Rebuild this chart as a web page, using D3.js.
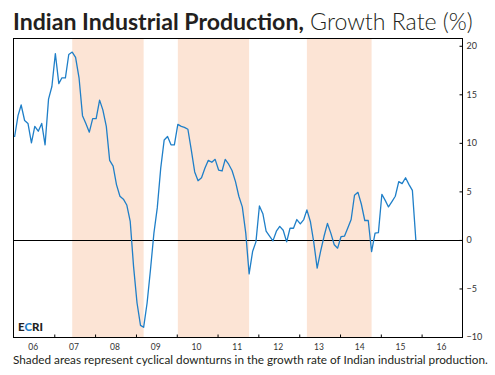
<!DOCTYPE html>
<html>
<head>
<meta charset="utf-8">
<script src="https://cdn.jsdelivr.net/npm/d3@7"></script>
<style>
  body { margin: 0; background: #fff; }
  svg text { font-family: Lato, "Open Sans", sans-serif; }
</style>
</head>
<body>
<div id="chart"></div>
<script>
// --- data (monthly growth rate, %, from Jan 2006) ---
const startMonth = "2006-01";
const growth = [
  10.6, 12.8, 13.9, 12.3, 12.0, 10.0, 11.7, 11.2, 12.0, 9.8, 14.5, 15.8,   // 2006
  19.2, 16.1, 16.7, 16.7, 19.1, 19.35, 18.8, 16.7, 12.8, 12.0, 11.1, 12.5, // 2007
  12.5, 14.4, 13.4, 11.7, 8.2, 7.6, 5.7, 4.5, 4.2, 3.6, 1.9, -2.75,       // 2008
  -6.5, -8.8, -9.0, -6.5, -3.1, 0.7, 3.3, 7.4, 10.3, 10.65, 9.8, 9.8,     // 2009
  11.9, 11.7, 11.6, 11.4, 9.3, 7.0, 6.1, 6.4, 7.4, 8.2, 8.0, 8.3,         // 2010
  7.2, 7.1, 8.3, 7.8, 7.15, 6.0, 4.5, 3.4, 0.7, -3.5, -1.2, -0.2,         // 2011
  3.5, 2.7, 0.9, 0.4, -0.1, 0.9, 1.4, 1.0, -0.2, 1.2, 1.2, 2.1,           // 2012
  1.65, 2.1, 3.1, 1.9, -0.2, -2.9, -1.2, 0.35, 1.7, 0.7, -0.5, -0.85,     // 2013
  0.35, 0.4, 1.2, 2.1, 4.6, 4.9, 3.7, 2.0, 2.0, -1.2, 0.7, 0.75,          // 2014
  4.7, 4.05, 3.4, 3.95, 4.5, 6.0, 5.8, 6.4, 5.7, 5.1, 0.0                 // 2015
];
// cyclical downturns (start month, end month)
const downturns = [
  ["2007-06", "2009-03"],
  ["2010-01", "2011-10"],
  ["2013-03", "2014-10"]
];
const yTicks = [-10, -5, 0, 5, 10, 15, 20];
const years = [2006, 2007, 2008, 2009, 2010, 2011, 2012, 2013, 2014, 2015, 2016];
const yearLabels = ["06", "07", "08", "09", "10", "11", "12", "13", "14", "15", "16"];

const titleBold = "Indian Industrial Production,";
const titleLight = " Growth Rate (%)";
const footnote = "Shaded areas represent cyclical downturns in the growth rate of Indian industrial production.";

// --- setup ---
const width = 495;
const height = 375;
const margin = { top: 38, right: 33, bottom: 38, left: 13 };

const parseMonth = d3.timeParse("%Y-%m");
const midMonth = s => d3.timeDay.offset(parseMonth(s), 14);

const series = growth.map((v, i) => ({
  date: d3.timeDay.offset(d3.timeMonth.offset(parseMonth(startMonth), i), 14),
  value: v
}));

const svg = d3.select("#chart")
  .append("svg")
  .attr("width", width)
  .attr("height", height);

const x = d3.scaleTime()
  .domain([new Date(2006, 0, 1), new Date(2017, 0, 1)])
  .range([margin.left, width - margin.right]);

const y = d3.scaleLinear()
  .domain([-10, 20.8])
  .range([height - margin.bottom, margin.top]);

// shaded downturns
svg.append("g")
  .selectAll("rect")
  .data(downturns)
  .join("rect")
  .attr("x", d => x(midMonth(d[0])))
  .attr("width", d => x(midMonth(d[1])) - x(midMonth(d[0])))
  .attr("y", y.range()[1])
  .attr("height", y.range()[0] - y.range()[1])
  .attr("fill", "#fce4d5");

// zero line
svg.append("line")
  .attr("x1", x.range()[0]).attr("x2", x.range()[1])
  .attr("y1", Math.round(y(0)) + 0.5).attr("y2", Math.round(y(0)) + 0.5)
  .attr("stroke", "#000")
  .attr("stroke-width", 1);

// growth line
const line = d3.line()
  .x(d => x(d.date))
  .y(d => y(d.value));

svg.append("path")
  .datum(series)
  .attr("d", line)
  .attr("fill", "none")
  .attr("stroke", "#1f7fc8")
  .attr("stroke-width", 1.3)
  .attr("stroke-linejoin", "round");

// frame
svg.append("rect")
  .attr("x", x.range()[0] + 0.5)
  .attr("y", y.range()[1] + 0.5)
  .attr("width", x.range()[1] - x.range()[0])
  .attr("height", y.range()[0] - y.range()[1])
  .attr("fill", "none")
  .attr("stroke", "#000")
  .attr("stroke-width", 1);

// x ticks (inside, at year boundaries)
const xAxis = d3.axisBottom(x)
  .tickValues(years.slice(1).map(yr => new Date(yr, 0, 1)))
  .tickSize(-3)
  .tickFormat("");

svg.append("g")
  .attr("transform", `translate(0.5,${y.range()[0] + 0.5})`)
  .call(xAxis)
  .call(g => g.select(".domain").remove())
  .call(g => g.selectAll("text").remove())
  .call(g => g.selectAll("line").attr("stroke", "#000"));

// year labels centred in each year
svg.append("g")
  .selectAll("text")
  .data(years)
  .join("text")
  .attr("x", d => x(new Date(d, 6, 1)))
  .attr("y", 349.5)
  .attr("text-anchor", "middle")
  .attr("font-size", 8.5)
  .attr("fill", "#333")
  .text((d, i) => yearLabels[i]);

// y axis on the right
const yAxis = d3.axisRight(y)
  .tickValues(yTicks)
  .tickSize(-3)
  .tickPadding(4);

svg.append("g")
  .attr("transform", `translate(${x.range()[1] + 0.5},0)`)
  .call(yAxis)
  .call(g => g.select(".domain").remove())
  .call(g => g.selectAll("line").attr("stroke", "#000"))
  .call(g => g.selectAll("text")
    .attr("font-family", "Lato, 'Open Sans', sans-serif")
    .attr("font-size", 9)
    .attr("fill", "#333"));

// title
const title = svg.append("text")
  .attr("x", 13)
  .attr("y", 30)
  .attr("font-size", 19)
  .attr("fill", "#231f20");
title.append("tspan").attr("font-weight", 700).text(titleBold);
title.append("tspan").attr("font-weight", 300).text(titleLight);
const tw = title.node().getComputedTextLength();
title.attr("font-size", 19 * 460 / tw);

// footnote
const note = svg.append("text")
  .attr("x", 13)
  .attr("y", 364)
  .attr("font-size", 11)
  .attr("fill", "#231f20")
  .text(footnote);
const nw = note.node().getComputedTextLength();
note.attr("font-size", 11 * 475 / nw);

// ECRI mark
const logo = svg.append("text")
  .attr("x", 18)
  .attr("y", 331)
  .attr("font-size", 11.5)
  .attr("font-weight", 900);
logo.append("tspan").attr("fill", "#231f20").text("E");
logo.append("tspan").attr("fill", "#1f7fc8").text("C");
logo.append("tspan").attr("fill", "#231f20").text("RI");
</script>
</body>
</html>
